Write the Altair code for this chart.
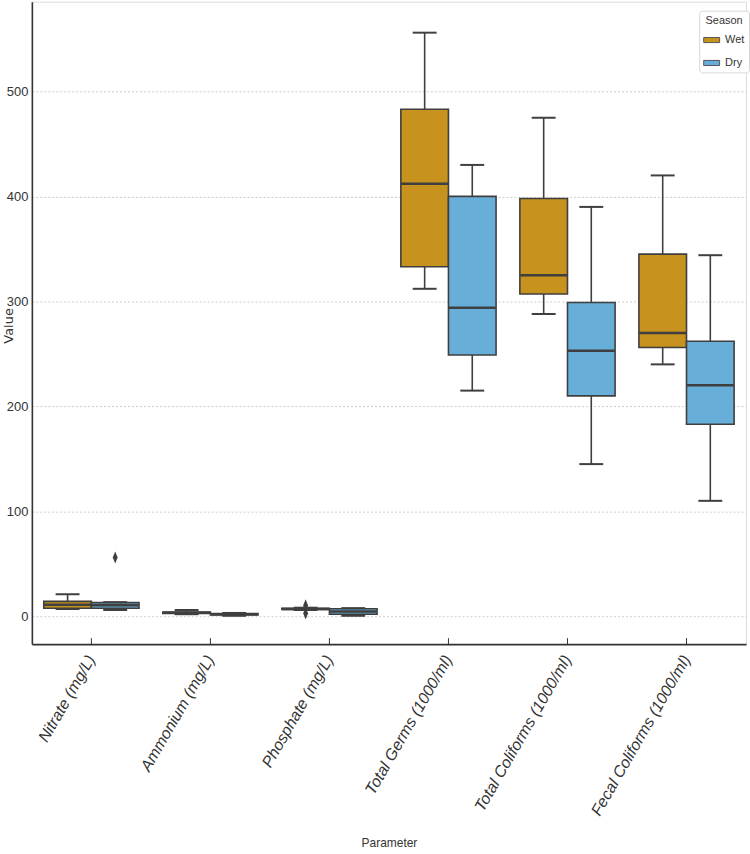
import altair as alt
import pandas as pd

params = ["Nitrate (mg/L)", "Ammonium (mg/L)", "Phosphate (mg/L)",
          "Total Germs (1000/ml)", "Total Coliforms (1000/ml)", "Fecal Coliforms (1000/ml)"]
seasons = ["Wet", "Dry"]

wet_low = [7.0, 2.0, 6.0, 312, 288, 240]
wet_q1 = [7.6, 2.8, 6.6, 333, 307, 256]
wet_med = [11.0, 3.3, 7.0, 412, 325, 270]
wet_q3 = [14.2, 4.0, 7.6, 483, 398, 345]
wet_high = [21.0, 6.0, 8.2, 556, 475, 420]

dry_low = [6.0, 0.5, 0.5, 215, 145, 110]
dry_q1 = [7.6, 1.2, 2.0, 249, 210, 183]
dry_med = [10.5, 2.0, 4.5, 294, 253, 220]
dry_q3 = [13.0, 2.6, 7.2, 400, 299, 262]
dry_high = [13.5, 3.2, 7.8, 430, 390, 344]

outlier_param = ["Nitrate (mg/L)", "Phosphate (mg/L)", "Phosphate (mg/L)"]
outlier_season = ["Dry", "Wet", "Wet"]
outlier_value = [56.0, 10.4, 2.8]

colors = ["#C8921E", "#67AED8"]
FONT = "Liberation Sans"
EDGE = "#3f3f3f"

rows = []
for i, p in enumerate(params):
    rows.append(dict(Parameter=p, Season="Wet", low=wet_low[i], q1=wet_q1[i], med=wet_med[i], q3=wet_q3[i], high=wet_high[i]))
    rows.append(dict(Parameter=p, Season="Dry", low=dry_low[i], q1=dry_q1[i], med=dry_med[i], q3=dry_q3[i], high=dry_high[i]))
df = pd.DataFrame(rows)
out_df = pd.DataFrame({"Parameter": outlier_param, "Season": outlier_season, "Value": outlier_value})
tick_df = pd.DataFrame({"Parameter": params})

xscale = alt.Scale(domain=params, paddingInner=0.2, paddingOuter=0.1)
xoff = alt.XOffset("Season:N", scale=alt.Scale(domain=seasons, paddingInner=0, paddingOuter=0))
yscale = alt.Scale(domain=[-26.5, 585.5], nice=False, zero=False)

x_enc = alt.X("Parameter:N", scale=xscale, sort=params,
              axis=alt.Axis(title="Parameter", labelAngle=-60, labelAlign="right", labelBaseline="middle",
                            labelFontStyle="italic", labelFont=FONT, labelFontSize=16, labelColor="#333333",
                            labelLimit=400, labelOverlap=False,
                            ticks=False, labelPadding=12, domainColor="#333333", domainWidth=1.6,
                            titleFont=FONT, titleFontSize=12, titleFontWeight="normal", titleColor="#333333",
                            titleY=203, titleBaseline="alphabetic", grid=False))
y_enc = alt.Y("low:Q", scale=yscale,
              axis=alt.Axis(title="Value", values=[0, 100, 200, 300, 400, 500], ticks=False,
                            labelFont=FONT, labelFontSize=13, labelColor="#333333", labelPadding=4,
                            domainColor="#333333", domainWidth=1.6,
                            grid=True, gridColor="#cccccc", gridDash=[2, 2], gridWidth=1,
                            titleFont="DejaVu Sans", titleFontSize=13, titleFontWeight="normal",
                            titleColor="#333333", titleX=-16, titleY=325, titleAngle=-90,
                            titleAlign="center", titleBaseline="bottom"))

base = alt.Chart(df)

whisk = base.mark_rule(color=EDGE, strokeWidth=1.6).encode(
    x=x_enc, xOffset=xoff, y=y_enc, y2="high:Q")

box = base.mark_bar(stroke=EDGE, strokeWidth=1.6).encode(
    x=alt.X("Parameter:N", scale=xscale, sort=params),
    xOffset=xoff,
    y=alt.Y("q1:Q", scale=yscale),
    y2="q3:Q",
    color=alt.Color("Season:N", scale=alt.Scale(domain=seasons, range=colors),
                    legend=alt.Legend(title="Season", orient="none", legendX=670, legendY=9,
                                      fillColor="white", strokeColor="#d8d8d8", cornerRadius=3,
                                      padding=4, titleFont=FONT, titleFontSize=11, titleFontWeight="normal",
                                      titleColor="#333333", titleAnchor="middle", titleAlign="center",
                                      titlePadding=6,
                                      labelFont=FONT, labelFontSize=11, labelColor="#333333", labelOffset=5,
                                      symbolType="M-1,-0.32L1,-0.32L1,0.32L-1,0.32Z", symbolSize=256,
                                      symbolStrokeColor="#555555", symbolStrokeWidth=1, rowPadding=9,
                                      symbolOpacity=1)))

med = base.mark_tick(color=EDGE, thickness=2.5, size=47, opacity=1).encode(
    x=alt.X("Parameter:N", scale=xscale, sort=params), xOffset=xoff,
    y=alt.Y("med:Q", scale=yscale))

cap_lo = base.mark_tick(color=EDGE, thickness=2, size=24, opacity=1).encode(
    x=alt.X("Parameter:N", scale=xscale, sort=params), xOffset=xoff,
    y=alt.Y("low:Q", scale=yscale))
cap_hi = base.mark_tick(color=EDGE, thickness=2, size=24, opacity=1).encode(
    x=alt.X("Parameter:N", scale=xscale, sort=params), xOffset=xoff,
    y=alt.Y("high:Q", scale=yscale))

outl = alt.Chart(out_df).mark_point(shape="M0,-1L0.4,0L0,1L-0.4,0Z", filled=True, color=EDGE,
                                    size=150, opacity=1).encode(
    x=alt.X("Parameter:N", scale=xscale, sort=params), xOffset=xoff,
    y=alt.Y("Value:Q", scale=yscale))

xticks = alt.Chart(tick_df).mark_rule(color="#333333", strokeWidth=1).encode(
    x=alt.X("Parameter:N", scale=xscale, sort=params),
    y=alt.value(639), y2=alt.value(645))

chart = alt.layer(whisk, box, med, cap_lo, cap_hi, outl, xticks).properties(
    width=717, height=645, padding={"left": 3, "top": 0, "right": 0, "bottom": 0}
).configure_view(stroke=None).configure(background="white")

chart.save("out.html", embed_options={"renderer": "svg", "actions": False})
